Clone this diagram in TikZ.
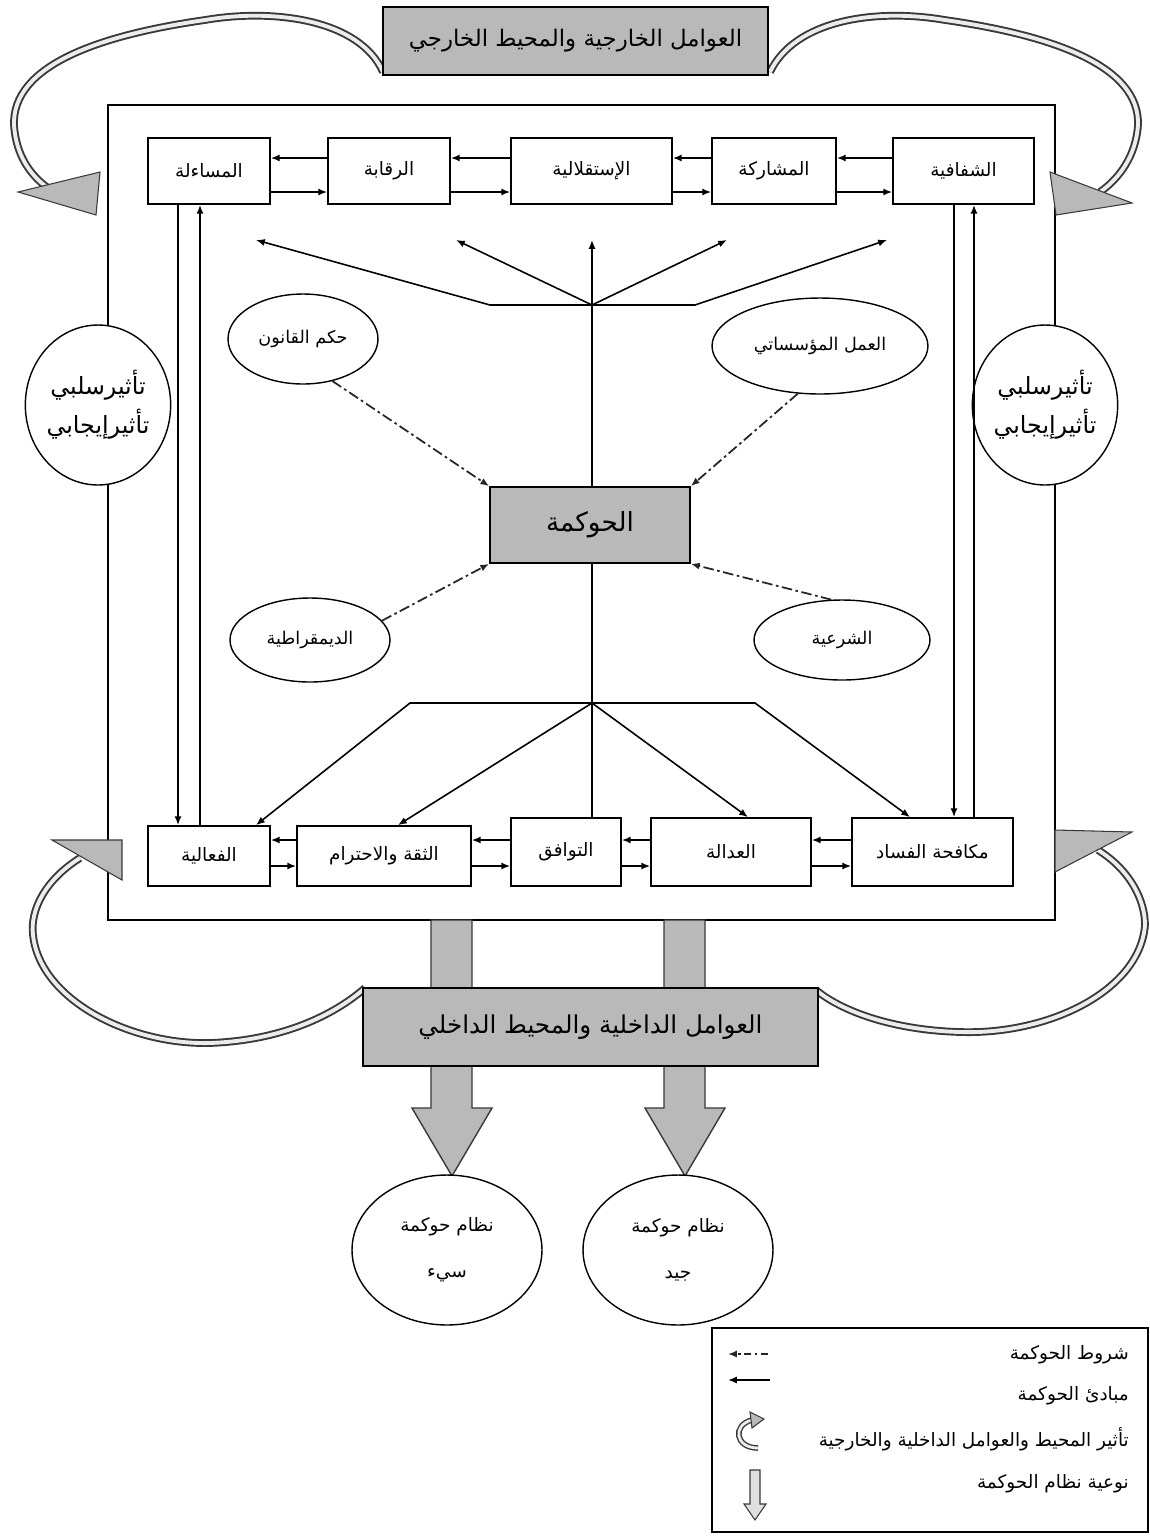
\documentclass[tikz,border=0pt]{standalone}
\usepackage{fontspec}
\newfontfamily\arabicfont[Script=Arabic]{DejaVu Sans}
\TeXXeTstate=1
\usetikzlibrary{shapes.geometric,arrows.meta}
\newcommand{\ar}[1]{{\arabicfont\beginR #1\endR}}

\tikzset{
  pbox/.style={draw, line width=1pt, fill=white, inner sep=2pt, font=\fontsize{10.5}{12}\selectfont},
  gbox/.style={pbox, fill=gray!55, font=\fontsize{13}{15}\selectfont},
  poval/.style={ellipse, draw, line width=0.8pt, fill=white, inner sep=0pt, font=\fontsize{10}{12}\selectfont},
  condarrow/.style={->, line width=1pt, gray!30!black, dash pattern=on 6pt off 2pt on 1.5pt off 2pt},
  princarrow/.style={->, line width=0.9pt},
  loopshaft/.style={draw=gray!45!black, double=gray!15, double distance=2.2pt, line width=1.1pt},
  loophead/.style={fill=gray!55, draw=gray!45!black, line width=0.6pt},
  legtext/.style={anchor=east, font=\fontsize{10.5}{12}\selectfont},
}

\begin{document}
\begin{tikzpicture}[x=0.02cm, y=-0.02cm, >={Latex[length=5pt,width=4pt]}]
\useasboundingbox (0,0) rectangle (1150,1536);

% frame of the governance system
\node[draw, line width=1pt, minimum width=18.94cm, minimum height=16.3cm] (frame) at (581.5,512.5) {};

% environment loops
\draw[loopshaft] (383,72) .. controls (360,20) and (275,8) .. (205,20)
  .. controls (100,35) and (12,65) .. (14,125) .. controls (16,155) and (30,175) .. (48,188);
\draw[loopshaft] (770,72) .. controls (795,20) and (875,8) .. (945,20)
  .. controls (1050,35) and (1140,65) .. (1138,125) .. controls (1136,155) and (1120,178) .. (1100,192);
\draw[loopshaft] (80,858) .. controls (45,880) and (30,910) .. (33,935)
  .. controls (40,1000) and (130,1045) .. (210,1043) .. controls (290,1040) and (340,1010) .. (365,988);
\draw[loopshaft] (1098,850) .. controls (1130,870) and (1145,900) .. (1145,925)
  .. controls (1140,990) and (1050,1035) .. (960,1032) .. controls (890,1030) and (840,1010) .. (816,990);
\draw[loophead] (18,192) -- (100,172) -- (96,215) -- cycle;
\draw[loophead] (1132,203) -- (1050,172) -- (1056,215) -- cycle;
\draw[loophead] (52,840) -- (122,840) -- (122,880) -- cycle;
\draw[loophead] (1132,832) -- (1055,830) -- (1055,872) -- cycle;

% side ovals
\node[poval, minimum width=2.8cm, minimum height=3.2cm, font=\fontsize{13.5}{22}\selectfont, align=center] (negL) at (98,405) {\ar{تأثيرسلبي}\\\ar{تأثيرإيجابي}};
\node[poval, minimum width=2.8cm, minimum height=3.2cm, font=\fontsize{13.5}{22}\selectfont, align=center] (negR) at (1045,405) {\ar{تأثيرسلبي}\\\ar{تأثيرإيجابي}};

% top principles
\node[pbox, minimum width=2.44cm, minimum height=1.32cm] (musaala) at (209,171) {\ar{المساءلة}};
\node[pbox, minimum width=2.44cm, minimum height=1.32cm] (riqaba) at (389,171) {\ar{الرقابة}};
\node[pbox, minimum width=3.22cm, minimum height=1.32cm] (istiqlal) at (591.5,171) {\ar{الإستقلالية}};
\node[pbox, minimum width=2.48cm, minimum height=1.32cm] (musharaka) at (774,171) {\ar{المشاركة}};
\node[pbox, minimum width=2.82cm, minimum height=1.32cm] (shafafiya) at (963.5,171) {\ar{الشفافية}};

% bottom principles
\node[pbox, minimum width=2.44cm, minimum height=1.2cm] (faaliya) at (209,856) {\ar{الفعالية}};
\node[pbox, minimum width=3.48cm, minimum height=1.2cm] (thiqa) at (384,856) {\ar{الثقة والاحترام}};
\node[pbox, minimum width=2.2cm, minimum height=1.36cm] (tawafuq) at (566,852) {\ar{التوافق}};
\node[pbox, minimum width=3.2cm, minimum height=1.36cm] (adala) at (731,852) {\ar{العدالة}};
\node[pbox, minimum width=3.22cm, minimum height=1.36cm] (mukafaha) at (932.5,852) {\ar{مكافحة الفساد}};

\foreach \a/\b in {musaala/riqaba, riqaba/istiqlal, istiqlal/musharaka, musharaka/shafafiya} {
  \draw[princarrow] (\b.west |- 0,158) -- (\a.east |- 0,158);
  \draw[princarrow] (\a.east |- 0,192) -- (\b.west |- 0,192);
}
\foreach \a/\b in {faaliya/thiqa, thiqa/tawafuq, tawafuq/adala, adala/mukafaha} {
  \draw[princarrow] (\b.west |- 0,840) -- (\a.east |- 0,840);
  \draw[princarrow] (\a.east |- 0,866) -- (\b.west |- 0,866);
}
\draw[princarrow] (musaala.south -| 178,0) -- (faaliya.north -| 178,0);
\draw[princarrow] (faaliya.north -| 200,0) -- (musaala.south -| 200,0);
\draw[princarrow] (shafafiya.south -| 954,0) -- (mukafaha.north -| 954,0);
\draw[princarrow] (mukafaha.north -| 974,0) -- (shafafiya.south -| 974,0);

% governance core
\node[gbox, minimum width=4cm, minimum height=1.52cm, font=\fontsize{15}{17}\selectfont] (hawkama) at (590,525) {\ar{الحوكمة}};

\coordinate (hubT) at (592,305);
\coordinate (bendTL) at (490,305);
\coordinate (bendTR) at (695,305);
\coordinate (tipT1) at (256,240);
\coordinate (tipT2) at (456,240);
\coordinate (tipT4) at (727,240);
\coordinate (tipT5) at (887,240);
\draw[princarrow] (hawkama.north -| hubT) -- (hubT |- tipT1);
\draw[princarrow] (hubT) -- (tipT2);
\draw[princarrow] (hubT) -- (tipT4);
\draw[princarrow] (hubT) -- (bendTL) -- (tipT1);
\draw[princarrow] (hubT) -- (bendTR) -- (tipT5);

\coordinate (hubB) at (592,703);
\coordinate (bendBL) at (410,703);
\coordinate (bendBR) at (755,703);
\draw[line width=0.9pt] (hawkama.south -| hubB) -- (tawafuq.north -| hubB);
\draw[princarrow] (hubB) -- (bendBL) -- (faaliya.north -| 256,0);
\draw[princarrow] (hubB) -- (thiqa.north -| 398,0);
\draw[princarrow] (hubB) -- (adala.north -| 748,0);
\draw[princarrow] (hubB) -- (bendBR) -- (mukafaha.north -| 910,0);

% conditions
\node[poval, minimum width=3cm, minimum height=1.8cm] (law) at (303,339) {\ar{حكم القانون}};
\node[poval, minimum width=4.32cm, minimum height=1.92cm] (inst) at (820,346) {\ar{العمل المؤسساتي}};
\node[poval, minimum width=3.2cm, minimum height=1.68cm] (demo) at (310,640) {\ar{الديمقراطية}};
\node[poval, minimum width=3.52cm, minimum height=1.6cm] (legit) at (842,640) {\ar{الشرعية}};
\draw[condarrow] (law.-55) -- (hawkama.north west);
\draw[condarrow] (inst.-115) -- (hawkama.north east);
\draw[condarrow] (demo.15) -- (hawkama.south west);
\draw[condarrow] (legit.105) -- (hawkama.south east);

% outcome arrows
\draw[loophead, line width=0.8pt] (431,920) -- (472,920) -- (472,1108) -- (492,1108) -- (452,1176)
  -- (412,1108) -- (431,1108) -- cycle;
\draw[loophead, line width=0.8pt] (664,920) -- (705,920) -- (705,1108) -- (725,1108) -- (685,1176)
  -- (645,1108) -- (664,1108) -- cycle;

% environments
\node[gbox, minimum width=7.7cm, minimum height=1.36cm] (extEnv) at (575.5,41) {\ar{العوامل الخارجية والمحيط الخارجي}};
\node[gbox, minimum width=9.1cm, minimum height=1.56cm, font=\fontsize{14}{16}\selectfont] (intEnv) at (590.5,1027) {\ar{العوامل الداخلية والمحيط الداخلي}};

% outcomes
\node[poval, minimum width=3.8cm, minimum height=3cm, align=center, font=\fontsize{10.5}{26}\selectfont] (bad) at (447,1250) {\ar{نظام حوكمة}\\\ar{سيء}};
\node[poval, minimum width=3.8cm, minimum height=3cm, align=center, font=\fontsize{10.5}{26}\selectfont] (good) at (678,1250) {\ar{نظام حوكمة}\\\ar{جيد}};

% legend
\node[draw, line width=0.8pt, minimum width=8.72cm, minimum height=4.08cm] (legend) at (930,1430) {};
\node[legtext] (legCond) at (1135,1355) {\ar{شروط الحوكمة}};
\node[legtext] (legPrinc) at (1135,1396) {\ar{مبادئ الحوكمة}};
\node[legtext] (legEnv) at (1135,1439) {\ar{تأثير المحيط والعوامل الداخلية والخارجية}};
\node[legtext] (legType) at (1135,1484) {\ar{نوعية نظام الحوكمة}};
\coordinate (symCond) at (768,1354);
\coordinate (symPrinc) at (770,1380);
\draw[condarrow, dash pattern=on 4pt off 2pt on 1.5pt off 2pt] (symCond) -- ++(-40,0);
\draw[princarrow] (symPrinc) -- ++(-42,0);
\draw[loopshaft, line width=0.8pt, double distance=1.6pt] (758,1448) .. controls (735,1448) and (732,1425) .. (752,1420);
\draw[loophead] (750,1412) -- (764,1419) -- (752,1428) -- cycle;
\draw[loophead, fill=gray!25] (750,1470) -- (760,1470) -- (760,1504) -- (766,1504) -- (755,1520)
  -- (744,1504) -- (750,1504) -- cycle;
\end{tikzpicture}
\end{document}
